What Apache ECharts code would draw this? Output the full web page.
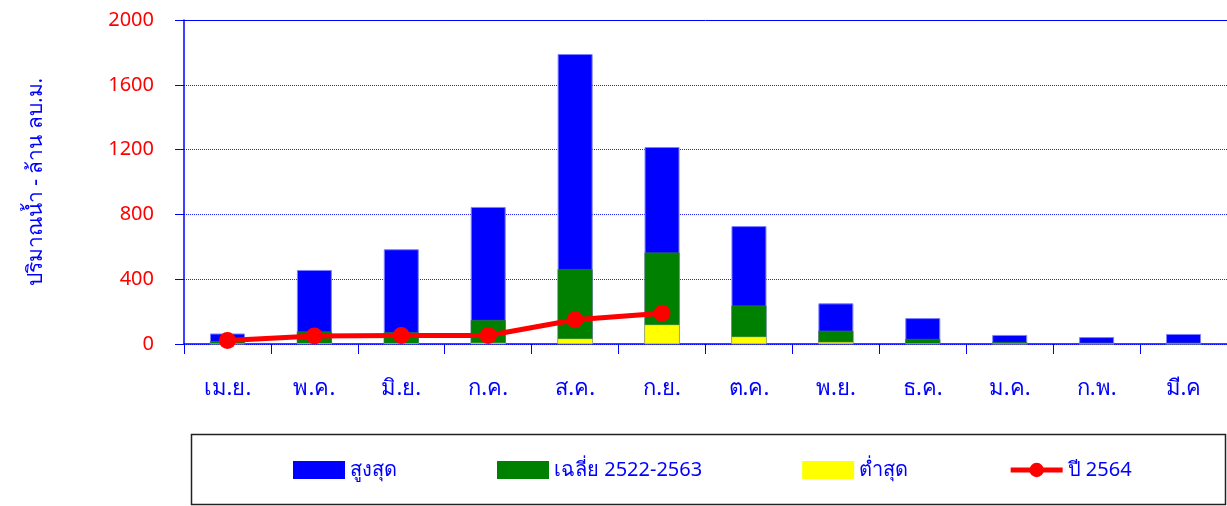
<!DOCTYPE html>
<html><head><meta charset="utf-8">
<script src="https://cdn.jsdelivr.net/npm/echarts@6/dist/echarts.min.js"></script>
<style>html,body{margin:0;padding:0;background:#fff}#c{width:1227px;height:506px}</style>
</head><body><div id="c"></div>
<script>
const months = ['เม.ย.','พ.ค.','มิ.ย.','ก.ค.','ส.ค.','ก.ย.','ต.ค.','พ.ย.','ธ.ค.','ม.ค.','ก.พ.','มี.ค'];
const maxVals = [65, 457, 585, 846, 1790, 1216, 728, 251, 160, 56, 43, 62];
const avgVals = [17, 77, 73, 148, 462, 565, 237, 82, 31, 12, 8, 8];
const minVals = [2, 5, 5, 8, 33, 119, 45, 12, 3, 1, 1, 1];
const y2564 = [21, 50, 52, 52, 150, 190];
const yTicks = [0, 400, 800, 1200, 1600, 2000];
const FONT = 'Tahoma, "Noto Sans", "DejaVu Sans", sans-serif';

const chart = echarts.init(document.getElementById('c'), null, {renderer:'canvas'});
chart.setOption({
  animation: false,
  textStyle: {fontFamily: FONT},
  grid: {left: 184, top: 20, width: 1044, height: 324, containLabel: false},
  legend: {
    left: 288, top: 455, itemWidth: 52, itemHeight: 18, itemGap: 100,
    textStyle: {color: '#0000ff', fontSize: 20, fontFamily: FONT},
    data: [
      {name: 'สูงสุด', icon: 'rect', itemStyle: {borderWidth: 0}},
      {name: 'เฉลี่ย 2522-2563', icon: 'rect', itemStyle: {borderWidth: 0}},
      {name: 'ต่ำสุด', icon: 'rect', itemStyle: {borderWidth: 0}},
      {name: 'ปี 2564', lineStyle: {width: 5}}
    ]
  },
  graphic: [{
    type: 'rect',
    shape: {x: 191.5, y: 434.5, width: 1034, height: 70},
    style: {fill: 'none', stroke: '#222', lineWidth: 1.5}, z: -1
  }],
  xAxis: [{
    type: 'category', data: months,
    axisLine: {lineStyle: {color: '#0000ff', width: 1.5}},
    axisTick: {show: true, length: 10, inside: false, alignWithLabel: false, lineStyle: {color: '#0000ff'}},
    axisLabel: {color: '#0000ff', fontSize: 22, margin: 34, fontFamily: FONT}
  }, {
    type: 'category', data: months, position: 'top',
    axisLine: {show: true, lineStyle: {color: '#0000ff', width: 1}},
    axisTick: {show: false}, axisLabel: {show: false}
  }],
  yAxis: {
    type: 'value', min: 0, max: 2000, interval: 400,
    name: 'ปริมาณน้ำ - ล้าน ลบ.ม.', nameLocation: 'middle', nameGap: 137, nameRotate: 90,
    nameTextStyle: {color: '#0000ff', fontSize: 21, fontFamily: FONT},
    axisLine: {show: true, lineStyle: {color: '#0000ff', width: 1.5}},
    axisTick: {show: true, length: 9, lineStyle: {color: '#0000ff'}},
    axisLabel: {color: '#ff0000', fontSize: 20, margin: 30, fontFamily: FONT,
      formatter: v => yTicks.includes(v) ? String(v) : ''},
    splitLine: {show: true, lineStyle: {color: '#2020ff', type: 'dotted', width: 1}}
  },
  series: [
    {name: 'สูงสุด', type: 'bar', data: maxVals, barWidth: 35, barGap: '-100%',
      itemStyle: {color: '#0000ff', borderColor: '#8080ff', borderWidth: 1}},
    {name: 'เฉลี่ย 2522-2563', type: 'bar', data: avgVals, barWidth: 35, barGap: '-100%',
      itemStyle: {color: '#008000', borderColor: '#4a7a4a', borderWidth: 0.5}},
    {name: 'ต่ำสุด', type: 'bar', data: minVals, barWidth: 35, barGap: '-100%',
      itemStyle: {color: '#ffff00', borderColor: '#b0b060', borderWidth: 0.5}},
    {name: 'ปี 2564', type: 'line', data: y2564, symbol: 'circle', symbolSize: 17,
      lineStyle: {color: '#ff0000', width: 5}, itemStyle: {color: '#ff0000'}, z: 10}
  ]
});
</script></body></html>
